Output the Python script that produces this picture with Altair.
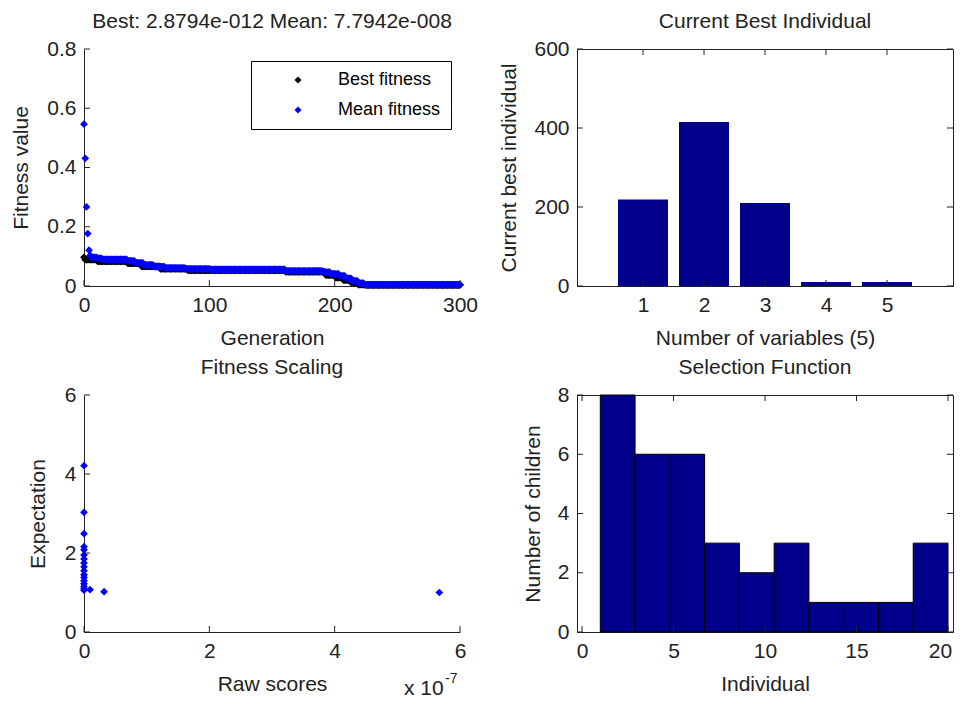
import altair as alt
import pandas as pd

FONT = "Liberation Sans"
FS = 21
AX = "#222222"
NAVY = "#00008B"
W, H = 376, 237
TK = 6

# ---------------- data ----------------
# Fitness per generation (run-length: [count, value]), generations 0..300
best_runs = [[1, 0.097], [10, 0.089], [24, 0.083], [11, 0.076], [15, 0.066],
             [22, 0.058], [78, 0.053], [32, 0.048], [8, 0.037], [6, 0.028],
             [6, 0.020], [6, 0.012], [6, 0.005], [76, 0.003]]
mean_runs = [[1, 0.546], [1, 0.431], [1, 0.267], [1, 0.177], [1, 0.121],
             [1, 0.104], [5, 0.097], [4, 0.093], [20, 0.090], [6, 0.085],
             [7, 0.078], [8, 0.071], [9, 0.065], [16, 0.061], [20, 0.058],
             [60, 0.056], [30, 0.051], [6, 0.047], [7, 0.041], [5, 0.034],
             [5, 0.026], [5, 0.017], [5, 0.010], [77, 0.005]]
series_names = ["Best fitness", "Mean fitness"]

# Current best individual
variables = [1, 2, 3, 4, 5]
best_individual = [219, 415, 210, 10, 10]

# Fitness scaling
raw_scores = [0.0, 0.0, 0.0, 0.0, 0.0, 0.0, 0.0, 0.0, 0.0, 0.0,
              0.0, 0.0, 0.0, 0.0, 0.0, 0.0, 0.0, 0.096e-7, 0.32e-7, 5.67e-7]
expectation = [4.21, 3.03, 2.49, 2.16, 2.08, 1.95, 1.85, 1.75, 1.65, 1.55,
               1.45, 1.38, 1.30, 1.22, 1.15, 1.10, 1.06, 1.07, 1.02, 1.00]

# Selection function histogram
bin_edges = [1.0, 2.9, 4.8, 6.7, 8.6, 10.5, 12.4, 14.3, 16.2, 18.1, 20.0]
children = [8, 6, 6, 3, 2, 3, 1, 1, 1, 3]


def expand(runs):
    out = []
    for c, v in runs:
        out += [v] * c
    return out


best_vals = expand(best_runs)
mean_vals = expand(mean_runs)
gens = list(range(len(best_vals)))
fit_df = pd.DataFrame({
    "gen": gens + gens,
    "fit": best_vals + mean_vals,
    "series": [series_names[0]] * len(gens) + [series_names[1]] * len(gens),
})
bar_df = pd.DataFrame({"var": variables, "val": best_individual})
scale_df = pd.DataFrame({"raw": raw_scores, "exp": expectation})
hist_df = pd.DataFrame({"lo": bin_edges[:-1], "hi": bin_edges[1:], "n": children})


def axis(title, values, fmt=None, label_expr=None, tpad=10, **extra):
    kw = dict(title=title, values=values, ticks=False, grid=False,
              domainColor=AX, domainWidth=1, labelFlush=False,
              titlePadding=tpad, labelFont=FONT, labelFontSize=FS, labelColor=AX,
              titleFont=FONT, titleFontSize=FS, titleColor=AX, titleFontWeight="normal",
              labelPadding=8)
    if fmt:
        kw["format"] = fmt
    if label_expr:
        kw["labelExpr"] = label_expr
    kw.update(extra)
    return alt.Axis(**kw)


def tick_layers(xf, xvals, xenc, yf, yvals, yenc, box):
    xt = pd.DataFrame({xf: xvals})
    yt = pd.DataFrame({yf: yvals})
    base_x = alt.Chart(xt).mark_rule(color=AX, strokeWidth=1)
    base_y = alt.Chart(yt).mark_rule(color=AX, strokeWidth=1)
    layers = [
        base_x.encode(x=xenc, y=alt.value(H), y2=alt.value(H - TK)),
        base_y.encode(y=yenc, x=alt.value(0), x2=alt.value(TK)),
    ]
    if box:
        layers += [
            base_x.encode(x=xenc, y=alt.value(0), y2=alt.value(TK)),
            base_y.encode(y=yenc, x=alt.value(W), x2=alt.value(W - TK)),
        ]
    return layers


def ttl(text):
    return alt.TitleParams(text=text, font=FONT, fontSize=FS, fontWeight="normal",
                           color=AX, offset=6)


# ---------------- panel 1: fitness ----------------
x1v = [0, 100, 200, 300]
y1v = [0, 0.2, 0.4, 0.6, 0.8]
x1 = alt.X("gen:Q", scale=alt.Scale(domain=[0, 300], nice=False),
           axis=axis("Generation", x1v, tpad=12))
y1 = alt.Y("fit:Q", scale=alt.Scale(domain=[0, 0.8], nice=False),
           axis=axis("Fitness value", y1v, fmt="~g", tpad=15))
pts1 = alt.Chart(fit_df).mark_point(shape="diamond", filled=True, size=60, opacity=1).encode(
    x=x1, y=y1,
    color=alt.Color("series:N",
                    scale=alt.Scale(domain=series_names, range=["#000000", "#0000FF"]),
                    legend=alt.Legend(orient="none", legendX=167, legendY=12, title=None,
                                      symbolType="diamond", symbolSize=50,
                                      symbolStrokeWidth=0, strokeColor="#000000",
                                      fillColor="#FFFFFF", padding=10,
                                      symbolOffset=28, labelOffset=31, rowPadding=12,
                                      labelFont=FONT, labelFontSize=18,
                                      labelColor="#000000", cornerRadius=0)),
    order=alt.Order("series:N"),
)
p1 = alt.layer(pts1, *tick_layers("gen", x1v, x1, "fit", y1v, y1, False)).properties(
    width=W, height=H, title=ttl("Best: 2.8794e-012 Mean: 7.7942e-008"))

# ---------------- panel 2: current best individual ----------------
x2v = [1, 2, 3, 4, 5]
y2v = [0, 200, 400, 600]
x2 = alt.X("var:Q", scale=alt.Scale(domain=[0, 6], nice=False),
           axis=axis("Number of variables (5)", x2v, fmt="d", tpad=12))
y2 = alt.Y("val:Q", scale=alt.Scale(domain=[0, 600], nice=False),
           axis=axis("Current best individual", y2v, fmt="d", tpad=14))
bars2 = alt.Chart(bar_df).mark_bar(orient="vertical", size=50, color=NAVY).encode(x=x2, y=y2)
p2 = alt.layer(bars2, *tick_layers("var", x2v, x2, "val", y2v, y2, True)).properties(
    width=W, height=H, title=ttl("Current Best Individual"),
    view=alt.ViewBackground(stroke=AX, strokeWidth=1))

# ---------------- panel 3: fitness scaling ----------------
x3v = [0, 2e-7, 4e-7, 6e-7]
y3v = [0, 2, 4, 6]
x3 = alt.X("raw:Q", scale=alt.Scale(domain=[0, 6e-7], nice=False),
           axis=axis("Raw scores", x3v, label_expr="format(datum.value*1e7, '.0f')", tpad=12))
y3 = alt.Y("exp:Q", scale=alt.Scale(domain=[0, 6], nice=False),
           axis=axis("Expectation", y3v, fmt="d", tpad=16))
pts3 = alt.Chart(scale_df).mark_point(shape="diamond", filled=True, size=60,
                                      color="#0000FF", opacity=1).encode(x=x3, y=y3)
mult_df = pd.DataFrame({"t": ["x 10", "-7"]})
mult_a = alt.Chart(mult_df).transform_filter("datum.t == 'x 10'").mark_text(
    align="left", baseline="alphabetic", font=FONT, fontSize=FS, color=AX).encode(
    text="t:N", x=alt.value(320), y=alt.value(300))
mult_b = alt.Chart(mult_df).transform_filter("datum.t == '-7'").mark_text(
    align="left", baseline="alphabetic", font=FONT, fontSize=14, color=AX).encode(
    text="t:N", x=alt.value(361), y=alt.value(288))
p3 = alt.layer(pts3, mult_a, mult_b, *tick_layers("raw", x3v, x3, "exp", y3v, y3, False)).properties(
    width=W, height=H, title=ttl("Fitness Scaling"))

# ---------------- panel 4: selection function ----------------
x4v = [0, 5, 10, 15, 20]
y4v = [0, 2, 4, 6, 8]
x4 = alt.X("lo:Q", scale=alt.Scale(domain=[0, 20], nice=False),
           axis=axis("Individual", x4v, fmt="d", tpad=12,
                     labelOffset={"condition": {"test": "datum.value == 20", "value": -8},
                                  "value": 0}))
y4 = alt.Y("n:Q", scale=alt.Scale(domain=[0, 8], nice=False),
           axis=axis("Number of children", y4v, fmt="d", tpad=14))
bars4 = alt.Chart(hist_df).mark_bar(orient="vertical", color=NAVY, stroke="#000000",
                                    strokeWidth=1).encode(x=x4, x2="hi:Q", y=y4)
p4 = alt.layer(bars4, *tick_layers("lo", x4v, x4, "n", y4v, y4, True)).properties(
    width=W, height=H, title=ttl("Selection Function"),
    view=alt.ViewBackground(stroke=AX, strokeWidth=1))

chart = alt.concat(p1, p2, p3, p4, columns=2).properties(
    spacing={"row": 109, "column": 117},
    bounds="flush",
    background="white",
    padding={"left": 2, "top": 2, "right": 0, "bottom": 0},
).configure_view(stroke=None)

chart.save("out.html", embed_options={"renderer": "svg", "actions": False})
